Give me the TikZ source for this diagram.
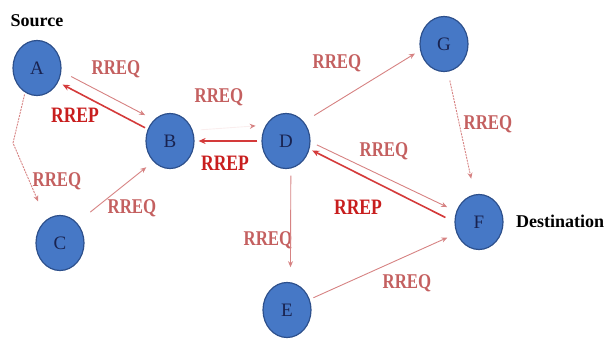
\documentclass[tikz,border=0pt]{standalone}
\usepackage{fontspec}
\setmainfont{Liberation Serif}
\newfontfamily\labelfont[FakeStretch=0.8]{Liberation Serif}
\usetikzlibrary{arrows.meta,shapes.geometric}
\definecolor{node_blue}{RGB}{70, 120, 198}
\definecolor{node_edge}{RGB}{45, 80, 140}
\definecolor{node_text}{RGB}{25, 35, 80}
\definecolor{req_line}{RGB}{214, 130, 130}
\definecolor{req_faint}{RGB}{250, 238, 238}
\definecolor{req_text}{RGB}{196, 96, 96}
\definecolor{rep_line}{RGB}{212, 58, 58}
\definecolor{rep_text}{RGB}{200, 30, 30}
\tikzstyle{nd}=[ellipse,fill=node_blue,draw=node_edge,line width=1.2pt,
  inner sep=0pt,minimum width=48pt,minimum height=55pt,text=node_text,
  font=\fontsize{19}{19}\selectfont]
\tikzstyle{req}=[draw=req_line,line width=0.9pt,-{Stealth[length=6pt,width=5pt]}]
\tikzstyle{reqdot}=[req,dash pattern=on 2pt off 1pt]
\tikzstyle{rep}=[draw=rep_line,line width=1.6pt,-{Stealth[length=7pt,width=6pt]}]
\tikzstyle{reqlbl}=[text=req_text,inner sep=0pt,
  font=\labelfont\fontsize{21}{21}\selectfont\bfseries]
\tikzstyle{replbl}=[text=rep_text,inner sep=0pt,
  font=\labelfont\fontsize{22}{22}\selectfont\bfseries]
\tikzstyle{role}=[inner sep=0pt,font=\fontsize{18}{18}\selectfont\bfseries]
\tikzstyle{none}=[]

\begin{document}
\begin{tikzpicture}[x=1pt,y=-1pt]
        \useasboundingbox (0, 0) rectangle (613, 338);
        \node [style=nd] (A) at (37, 68) {A};
		\node [style=nd] (B) at (170, 141) {B};
		\node [style=nd] (C) at (60, 243) {C};
		\node [style=nd] (D) at (286, 141) {D};
		\node [style=nd] (E) at (287, 310) {E};
		\node [style=nd] (F) at (479, 222) {F};
		\node [style=nd] (G) at (444, 44) {G};
		\coordinate (ac) at (13, 143);
		\node [style=role] (src) at (37, 21) {Source};
		\node [style=role, anchor=west] (dst) at (516, 221) {Destination};
		\node [style=reqlbl] (l1) at (116, 69) {RREQ};
		\node [style=replbl] (l2) at (75, 115) {RREP};
		\node [style=reqlbl] (l3) at (219, 97) {RREQ};
		\node [style=replbl] (l4) at (225, 163) {RREP};
		\node [style=reqlbl] (l5) at (57, 181) {RREQ};
		\node [style=reqlbl] (l6) at (132, 208) {RREQ};
		\node [style=reqlbl] (l7) at (337, 63) {RREQ};
		\node [style=reqlbl] (l8) at (488, 124) {RREQ};
		\node [style=reqlbl] (l9) at (384, 151) {RREQ};
		\node [style=replbl] (l10) at (358, 207) {RREP};
		\node [style=reqlbl] (l11) at (268, 240) {RREQ};
		\node [style=reqlbl] (l12) at (407, 283) {RREQ};
		\draw [style=req, shorten <=11pt, shorten >=10pt] (A.-8) to (B.127);
		\draw [style=rep, shorten <=3pt, shorten >=5pt] (B.152) to (A.-34);
		\draw [style=req, draw=req_faint, -{Stealth[length=6pt,width=5pt,color=req_line]},
		  shorten <=8pt, shorten >=10pt] (B.25) to (D.142);
		\draw [style=rep, shorten <=4pt, shorten >=4pt] (D.180) to (B.0);
		\draw [style=reqdot, shorten <=2pt, shorten >=20pt] (A.-116) -- (ac) -- (C.121);
		\draw [style=req, shorten <=17pt, shorten >=9pt] (C.50) to (B.-129);
		\draw [style=req, shorten <=12pt, shorten >=6pt] (D.47) to (G.-165);
		\draw [style=reqdot, shorten <=9pt, shorten >=16pt] (G.-82) to (F.99);
		\draw [style=req, shorten <=7pt, shorten >=10pt] (D.-2) to (F.155);
		\draw [style=rep, shorten <=10pt, shorten >=3pt] (F.180) to (D.-19);
		\draw [style=req, shorten <=7pt, shorten >=15pt] (D.-80) to (E.83);
		\draw [style=req, shorten <=4pt, shorten >=10pt] (E.25) to (F.-153);
    \end{tikzpicture}
\end{document}
